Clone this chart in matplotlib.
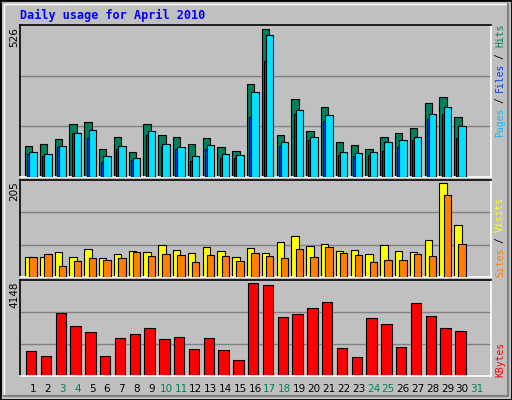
import matplotlib
matplotlib.use("Agg")
import matplotlib.pyplot as plt
import numpy as np

days = list(range(1, 32))
weekend = [3, 4, 10, 11, 17, 18, 24, 25, 31]
hits = [109, 119, 137, 187, 194, 98, 142, 90, 190, 148, 144, 119, 140, 108, 94, 330, 526, 151, 276, 162, 248, 123, 115, 101, 144, 155, 176, 265, 283, 212]
files = [90, 83, 112, 158, 169, 76, 112, 69, 165, 119, 108, 73, 115, 83, 80, 301, 505, 126, 240, 144, 219, 90, 87, 90, 123, 130, 144, 226, 248, 180]
pages = [83, 76, 108, 155, 140, 55, 98, 62, 148, 105, 101, 58, 101, 69, 69, 215, 412, 112, 226, 133, 201, 80, 76, 80, 94, 108, 133, 208, 223, 140]
visits = [43, 43, 54, 43, 61, 41, 50, 56, 54, 70, 58, 52, 65, 56, 43, 63, 52, 76, 90, 67, 72, 56, 58, 50, 70, 56, 54, 81, 205, 114]
sites = [43, 50, 25, 34, 41, 36, 41, 54, 45, 50, 47, 32, 47, 45, 34, 52, 45, 41, 61, 43, 65, 52, 47, 32, 38, 38, 50, 45, 178, 72]
kbytes = [1105, 878, 2786, 2241, 1968, 878, 1696, 1877, 2150, 1650, 1741, 1196, 1696, 1150, 696, 4148, 4057, 2604, 2740, 3013, 3285, 1241, 833, 2559, 2331, 1287, 3240, 2650, 2150, 2013]

W, H = 512, 400
fig = plt.figure(figsize=(W/100, H/100), dpi=100, facecolor="#C0C0C0")
fig.add_artist(plt.Rectangle((0, 0), 1, 1, transform=fig.transFigure, fill=False, edgecolor="black", lw=2))
fig.add_artist(plt.Line2D([4/W, 4/W, 508/W], [4/H, 396/H, 396/H], transform=fig.transFigure, color="white", lw=1))
fig.add_artist(plt.Line2D([4/W, 508/W, 508/W], [4/H, 4/H, 396/H], transform=fig.transFigure, color="#808080", lw=1.5))

def ax_at(top, bottom):
    ax = fig.add_axes([20/W, 1 - bottom/H, (491-20)/W, (bottom-top)/H])
    ax.set_facecolor("#C0C0C0")
    ax.set_xlim(0.12, 31.95)
    ax.set_xticks([]); ax.set_yticks([])
    ax.spines["left"].set_color("black"); ax.spines["top"].set_color("black")
    ax.spines["right"].set_color("white"); ax.spines["bottom"].set_color("white")
    for s in ax.spines.values():
        s.set_linewidth(1.2)
    return ax

x = np.arange(1, 31)
ec = dict(edgecolor="black", linewidth=0.8)

ax1 = ax_at(25, 177)
top1 = 541
ax1.set_ylim(0, top1)
for g in (top1/3, 2*top1/3):
    ax1.axhline(g, color="#808080", lw=1, zorder=0)
ax1.bar(x - 0.29, hits, width=0.5, color="#00805C", zorder=2, **ec)
ax1.bar(x - 0.25, pages, width=0.27, color="#0040FF", zorder=3, **ec)
ax1.bar(x, files, width=0.5, color="#00E0FF", zorder=4, **ec)

ax2 = ax_at(180, 277)
top2 = 211
ax2.set_ylim(0, top2)
for g in (top2/3, 2*top2/3):
    ax2.axhline(g, color="#808080", lw=1, zorder=0)
ax2.bar(x - 0.29, visits, width=0.5, color="#FFFF00", zorder=2, **ec)
ax2.bar(x, sites, width=0.5, color="#FF8000", zorder=3, **ec)

ax3 = ax_at(280, 376)
top3 = 4270
ax3.set_ylim(0, top3)
for g in (top3/3, 2*top3/3):
    ax3.axhline(g, color="#808080", lw=1, zorder=0)
ax3.bar(x - 0.12, kbytes, width=0.7, color="#FF0000", zorder=2, **ec)

for d in days:
    fig.text((33 + 14.8*(d-1))/W, 1 - 389/H, str(d), ha="center", va="center",
             fontsize=7.5, family="DejaVu Sans", color="#00805C" if d in weekend else "black")

fig.text(20/W, 1 - 15/H, "Daily usage for April 2010", ha="left", va="center",
         fontsize=8.5, family="DejaVu Sans Mono", weight="bold", color="#0000FF")

for lab, ytop in (("526", 27), ("205", 181), ("4148", 282)):
    fig.text(14/W, 1 - ytop/H, lab, rotation=90, ha="center", va="top", fontsize=7.5, family="DejaVu Sans")

def side(pieces, ybottom):
    y = ybottom
    for txt, col in pieces:
        fig.text(500/W, 1 - y/H, txt, rotation=90, ha="center", va="bottom",
                 fontsize=7, family="DejaVu Sans Mono", color=col)
        y -= 5.6 * (len(txt) + 1)

side([("Pages", "#00C0FF"), ("/", "black"), ("Files", "#0040FF"), ("/", "black"), ("Hits", "#00805C")], 137)
side([("Sites", "#FF8000"), ("/", "black"), ("Visits", "#FFFF00")], 277)
side([("KBytes", "#FF0000")], 377)

fig.savefig("out.png", dpi=100, facecolor=fig.get_facecolor())
